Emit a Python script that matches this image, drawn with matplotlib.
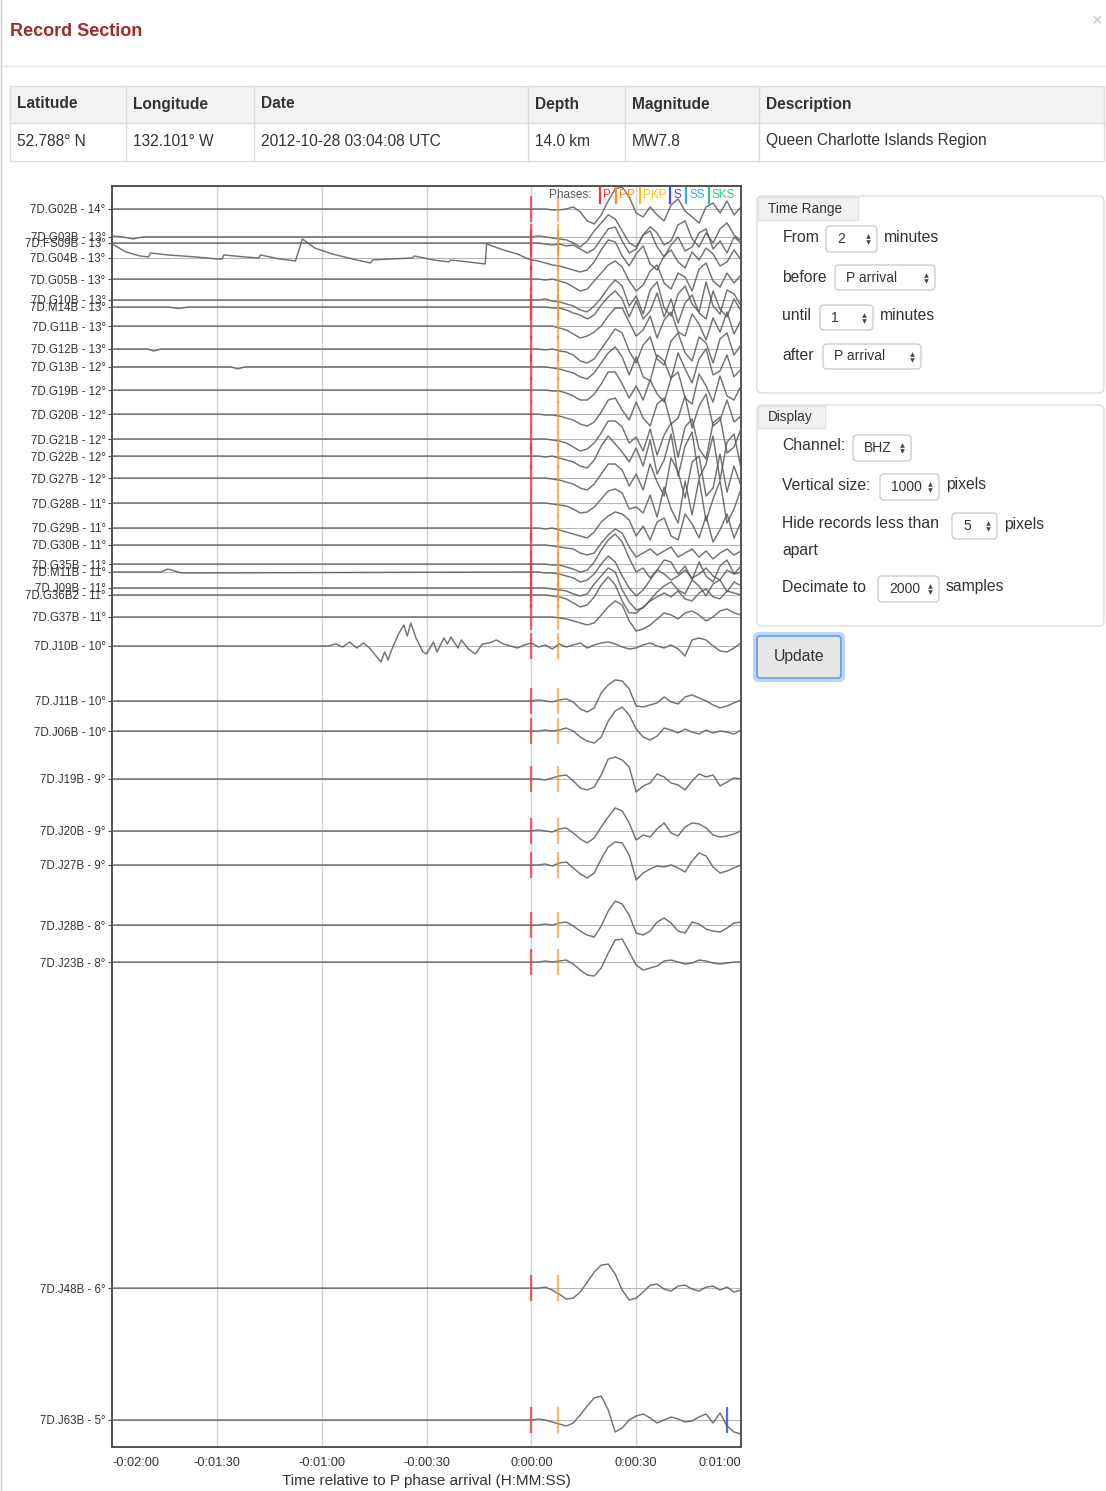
import numpy as np
import matplotlib
matplotlib.use('Agg')
import matplotlib.pyplot as plt
from matplotlib.patches import Rectangle, FancyBboxPatch

plt.rcParams['font.family'] = ['Liberation Sans', 'DejaVu Sans']

W, H = 1106, 1491

# ---------------- data ----------------
stations = ['7D.G02B', '7D.G03B', '7D.FS09B', '7D.G04B', '7D.G05B', '7D.G10B', '7D.M14B',
            '7D.G11B', '7D.G12B', '7D.G13B', '7D.G19B', '7D.G20B', '7D.G21B', '7D.G22B',
            '7D.G27B', '7D.G28B', '7D.G29B', '7D.G30B', '7D.G35B', '7D.M11B', '7D.J09B',
            '7D.G36B2', '7D.G37B', '7D.J10B', '7D.J11B', '7D.J06B', '7D.J19B', '7D.J20B',
            '7D.J27B', '7D.J28B', '7D.J23B', '7D.J48B', '7D.J63B']
deg_labels = [14, 13, 13, 13, 13, 13, 13, 13, 13, 12, 12, 12, 12, 12, 12, 11, 11, 11, 11, 11,
              11, 11, 11, 10, 10, 10, 9, 9, 9, 8, 8, 6, 5]
distances = [14.200, 13.993, 13.948, 13.837, 13.681, 13.526, 13.474, 13.333, 13.163, 13.030,
             12.859, 12.681, 12.496, 12.370, 12.207, 12.022, 11.837, 11.711, 11.570, 11.511,
             11.393, 11.341, 11.178, 10.963, 10.556, 10.333, 9.978, 9.593, 9.341, 8.896,
             8.622, 6.207, 5.230]

# post-P samples every 2 s from 0 to 60 s (amplitude, display counts)
post_t = np.arange(0, 61, 2)
w_G02B = [0,0,0,-1,-1,0,2,-3,-12,-15,-6,8,20,22,12,-4,-8,2,-6,-12,4,10,-2,-8,-14,2,6,-4,8,-6,2]
w_G03B = [0,1,0,-1,-2,-3,-6,-10,-4,6,14,22,18,6,-6,-10,2,10,4,-8,-4,12,16,-2,-10,4,-6,8,14,2,-4]
w_FS09B = [0,0,-1,-2,-1,-3,-2,-6,-10,-6,4,14,16,2,-10,-6,8,12,-4,-14,-2,6,-8,-4,10,14,-6,2,-10,6,0]
w_G04B = [-2,-3,-5,-7,-8,-10,-12,-14,-12,-4,8,18,16,2,-8,4,12,-6,-12,2,8,-4,-10,6,-2,10,4,-8,-4,8,-2]
w_G05B = [0,0,-1,0,-2,-4,-8,-12,-10,-2,6,14,18,12,-2,-12,-6,8,14,-4,-10,6,2,-12,10,16,-2,-8,6,-4,4]
w_G10B = [0,0,1,-1,-2,-4,-6,-10,-12,-6,2,12,20,14,-6,4,-14,10,18,-8,-16,6,14,-4,-12,18,-6,-14,10,6,-6]
w_M14B = [0,0,0,-1,-1,-3,-6,-8,-12,-8,2,10,16,8,-10,6,-12,-4,14,-10,8,-16,4,12,-6,-12,16,-2,-10,8,-4]
w_G11B = [0,0,0,0,-2,-4,-8,-12,-10,-6,0,10,18,18,4,-10,-4,10,-12,6,14,-6,-10,12,2,-14,8,-6,14,-8,6]
w_G12B = [0,0,-1,0,-2,-3,-6,-12,-14,-10,0,10,20,16,-2,-14,4,12,-10,-16,8,16,-4,-12,12,6,-14,10,16,-6,4]
w_G13B = [0,0,0,-1,-2,-4,-6,-10,-12,-6,4,14,20,10,-8,10,-10,-14,12,6,-12,14,-2,-16,8,18,-8,-4,12,-10,-2]
w_G19B = [0,0,0,-1,-1,-3,-6,-10,-10,-4,6,18,18,6,-8,4,-10,10,-4,-12,12,18,-8,-14,16,4,-12,14,-6,-10,4]
w_G20B = [0,0,-1,-1,-2,-4,-6,-10,-12,-8,2,14,16,4,-6,12,-4,-12,10,16,-10,-4,18,-14,8,20,-12,-6,14,-8,-2]
w_G21B = [0,0,0,-1,-2,-4,-8,-12,-10,-4,6,18,18,12,-4,2,-12,10,-16,4,16,-18,12,20,-10,-20,16,22,-14,-8,10]
w_G22B = [0,0,-1,0,-2,-4,-6,-10,-12,-4,10,20,12,4,-6,8,-10,16,-18,-4,22,-20,10,24,-22,-8,20,-24,14,22,-12]
w_G27B = [0,0,0,-1,-2,-4,-6,-10,-12,-6,4,14,14,8,-8,4,-12,14,-4,-18,20,6,-20,16,22,-18,-10,24,-14,12,-8]
w_G28B = [0,0,0,-1,-2,-3,-6,-10,-9,-4,4,12,14,10,-6,-4,-10,8,-14,16,-6,-20,22,-12,24,-18,4,22,-20,-6,14]
w_G29B = [0,0,-1,0,-2,-4,-6,-8,-10,-4,6,12,16,14,8,-8,2,-12,6,10,-8,-12,14,4,-10,12,-14,-2,14,-10,6]
w_G30B = [0,0,0,-1,-2,-3,-4,-8,-10,-8,2,10,16,12,-2,-12,-8,-4,-10,-6,-2,-12,-8,-4,-12,-6,-14,-8,-4,-10,-6]
w_G35B = [0,0,0,-1,-1,-3,-5,-8,-6,2,14,24,30,22,6,-8,-4,-14,-6,-10,-16,-12,-6,-14,-10,-4,-12,-16,-6,-10,-8]
w_M11B = [0,0,-1,-1,-2,-4,-6,-10,-8,-2,8,16,10,-4,-16,-24,-18,-8,2,12,10,-2,6,-8,10,-4,-10,6,12,-2,6]
w_J09B = [0,0,0,-1,-2,-3,-6,-8,-6,4,12,20,16,-2,-14,-22,-20,-12,-4,2,6,-2,-6,8,2,-8,4,8,-4,6,2]
w_G36B2 = [0,0,0,-1,-2,-4,-8,-12,-10,-2,10,18,10,-6,-18,-18,-12,-6,-2,2,-2,4,-4,-6,2,6,-2,-4,4,2,0]
w_G37B = [0,0,0,0,-1,-2,-4,-6,-8,-6,2,10,16,12,-4,-14,-12,-8,-2,4,2,-2,4,6,2,-4,0,6,8,4,2]
w_J10B = [3,-1,1,-3,2,-1,1,3,-2,1,3,4,2,-1,-3,-2,1,3,0,-2,1,-3,-10,6,8,6,0,-5,-6,-2,3]
w_J11B = [0,1,0,-1,1,2,-1,-8,-11,-7,8,16,21,20,12,-5,-6,-4,-2,4,-1,-3,4,6,3,0,-4,-7,-5,-2,1]
w_J06B = [0,0,1,0,1,3,0,-6,-10,-12,-6,10,20,24,16,2,-6,-9,-5,3,1,-2,2,-1,-3,1,-2,0,-1,-3,1]
w_J19B = [0,0,-1,1,3,4,-2,-9,-11,-8,4,20,22,19,12,-13,-7,-4,5,2,-4,-6,-11,-2,5,2,4,-7,-3,1,0]
w_J20B = [0,1,0,-1,2,3,-2,-8,-12,-7,4,14,23,20,8,-9,-4,-6,2,8,-2,-5,4,8,7,3,-4,-6,-5,-3,0]
w_J27B = [0,0,1,-1,2,3,-3,-9,-13,-8,6,18,23,22,10,-15,-8,-4,-1,-2,0,-3,-7,4,12,9,-2,-8,-6,-3,0]
w_J28B = [0,0,1,0,2,3,-1,-6,-10,-12,-1,14,24,21,10,-8,-10,-6,3,7,2,-6,-8,3,1,-4,-6,-7,-3,2,3]
w_J23B = [0,0,1,0,1,2,-2,-8,-13,-14,-6,9,22,23,10,-3,-8,-6,-4,1,2,0,-2,-1,2,1,-1,-2,-1,0,0]
w_J48B = [0,0,1,-2,-6,-11,-10,-4,6,16,23,24,14,-2,-12,-10,-4,3,4,-1,-3,2,3,-1,-3,1,2,-2,1,-4,-2]
w_J63B = [0,1,0,-2,-4,-6,-3,5,14,22,24,10,-12,-8,0,4,6,2,-3,0,3,1,-2,-1,3,6,-3,7,-6,-12,-14]

post_waves = [w_G02B, w_G03B, w_FS09B, w_G04B, w_G05B, w_G10B, w_M14B, w_G11B, w_G12B, w_G13B,
              w_G19B, w_G20B, w_G21B, w_G22B, w_G27B, w_G28B, w_G29B, w_G30B, w_G35B, w_M11B,
              w_J09B, w_G36B2, w_G37B, w_J10B, w_J11B, w_J06B, w_J19B, w_J20B, w_J27B, w_J28B,
              w_J23B, w_J48B, w_J63B]

# pre-P signal (time s, amplitude) where the record is not flat
pre_G04B_t = [-120,-116,-112,-109.5,-109,-104,-96,-90,-88.5,-88,-82,-78,-77.5,-72,-67.5,-65.5,-62,
              -57,-50,-46,-45.5,-40,-34,-33.5,-28,-23.6,-23,-18,-13.2,-12.8,-8,-4,-1.5]
pre_G04B_a = [14,6,2,1,5,3,1,-1,-1,3,1,0,3,-1,-3,19,10,4,-2,-5,-2,-1,0,2,-2,-4,-2,-4,-6,14,8,4,0]
pre_J10B_t = [-120,-58,-56,-54,-52,-50,-48,-46,-44,-43,-42,-41,-40,-38,-36.5,-35.5,-34.5,-33,-31,
              -30,-28,-27,-25,-24,-23,-21,-20,-18,-16,-14,-12,-10,-8,-6,-4,-2]
pre_J10B_a = [0,0,2,-1,4,-2,3,-3,-12,-16,-6,-14,-4,12,21,10,23,8,-6,-8,4,-6,8,2,9,-2,6,-3,-8,2,
              3,6,2,0,-2,1]
pre_G03B_t = [-120,-117,-114,-111,-100,-2]
pre_G03B_a = [1,0,-2,0,0,0]
pre_M11B_t = [-120,-106,-104,-102,-100,-2]
pre_M11B_a = [0,0,3,1,-1,0]
pre_M14B_t = [-120,-104,-101,-98,-2]
pre_M14B_a = [0,0,-1.5,0,0]
pre_G12B_t = [-120,-110,-108,-106,-2]
pre_G12B_a = [0,0,-2,0,0]
pre_G13B_t = [-120,-86,-84,-82,-2]
pre_G13B_a = [0,0,-2,0,0]
pre_signals = {'7D.G04B': (pre_G04B_t, pre_G04B_a), '7D.J10B': (pre_J10B_t, pre_J10B_a),
               '7D.G03B': (pre_G03B_t, pre_G03B_a), '7D.M11B': (pre_M11B_t, pre_M11B_a),
               '7D.M14B': (pre_M14B_t, pre_M14B_a), '7D.G12B': (pre_G12B_t, pre_G12B_a),
               '7D.G13B': (pre_G13B_t, pre_G13B_a)}

pp_delay = 7.5           # s after P
s_marks = {'7D.J63B': 56.1}

phase_names = ['P', 'PP', 'PKP', 'S', 'SS', 'SKS']
phase_colors = ['#f03a3a', '#ff8c1a', '#ffc21a', '#3d4fe0', '#3aa7f0', '#2ecc71']

grid_times = [-90, -60, -30, 0, 30]
tick_times = [-120, -90, -60, -30, 0, 30, 60]

table_headers = ['Latitude', 'Longitude', 'Date', 'Depth', 'Magnitude', 'Description']
table_values = ['52.788° N', '132.101° W', '2012-10-28 03:04:08 UTC', '14.0 km', 'MW7.8',
                'Queen Charlotte Islands Region']

amp_scale = 1.0 / 135.0   # degrees per display count


def fmt_time(s):
    sign = '-' if s < 0 else ''
    s = int(abs(s))
    return f"{sign}{s // 3600}:{(s // 60) % 60:02d}:{s % 60:02d}"


# ---------------- figure / page chrome ----------------
fig = plt.figure(figsize=(W / 100, H / 100), dpi=100)
ui = fig.add_axes([0, 0, 1, 1], zorder=0)
ui.set_xlim(0, W)
ui.set_ylim(H, 0)
ui.axis('off')

TXT = '#333333'
ui.plot([0.8, 0.8], [0, H], color='#cfcfcf', lw=1)
ui.text(10, 31, 'Record Section', color='#9e2a2b', fontsize=13, fontweight='bold',
        family=['Liberation Sans Narrow', 'Liberation Sans'], va='center', ha='left')
ui.text(1097, 22, '×', color='#c4c4c4', fontsize=13, ha='center', va='center')
ui.plot([0, W], [66, 66], color='#e5e5e5', lw=1)

# event table
col_x = [10, 126, 254, 528, 625, 759, 1104]
ui.add_patch(Rectangle((10, 86), 1094, 37, fc='#f3f3f3', ec='none'))
ui.add_patch(Rectangle((10, 86), 1094, 75, fc='none', ec='#dcdcdc', lw=1))
ui.plot([10, 1104], [123, 123], color='#dcdcdc', lw=1)
for x in col_x[1:-1]:
    ui.plot([x, x], [86, 161], color='#dcdcdc', lw=1)
for i, (hd, val) in enumerate(zip(table_headers, table_values)):
    ui.text(col_x[i] + 7, 104, hd, fontsize=11.2, fontweight='bold', color=TXT, va='center')
    ui.text(col_x[i] + 7, 141, val, fontsize=11.2, color=TXT, va='center')


def rbox(x0, y0, x1, y1, r=4, fc='white', ec='#cccccc', lw=1.0, z=1):
    p = FancyBboxPatch((x0, y0), x1 - x0, y1 - y0,
                       boxstyle=f'round,pad=0,rounding_size={r}',
                       fc=fc, ec=ec, lw=lw, zorder=z)
    ui.add_patch(p)


def select(x0, y0, x1, y1, val):
    rbox(x0, y0, x1, y1, r=4, fc='white', ec='#cccccc', lw=1, z=2)
    yc = (y0 + y1) / 2
    ui.text(x0 + 11, yc, val, fontsize=10, color=TXT, va='center', zorder=3)
    ui.plot([x1 - 9], [yc - 3], marker='^', ms=3.3, color='#444444', mec='none', zorder=3)
    ui.plot([x1 - 9], [yc + 3], marker='v', ms=3.3, color='#444444', mec='none', zorder=3)


def label(x, y, s):
    ui.text(x, y, s, fontsize=11.3, color=TXT, va='center', zorder=3)


# Time Range fieldset
rbox(757, 196, 1104, 393, r=5, fc='white', ec='#dddddd', lw=1)
ui.add_patch(Rectangle((758, 197), 100, 23, fc='#f1f1f1', ec='#e2e2e2', lw=1, zorder=2))
ui.text(768, 208.5, 'Time Range', fontsize=9.8, color=TXT, va='center', zorder=3)
label(783, 238, 'From'); select(826, 226, 877, 252, '2'); label(884, 238, 'minutes')
label(782, 277, 'before'); select(835, 265, 935, 290, 'P arrival')
label(782, 316, 'until'); select(820, 305, 873, 330, '1'); label(880, 316, 'minutes')
label(782, 355, 'after'); select(823, 344, 921, 369, 'P arrival')

# Display fieldset
rbox(757, 405, 1104, 626, r=5, fc='white', ec='#dddddd', lw=1)
ui.add_patch(Rectangle((758, 406), 67, 22, fc='#f1f1f1', ec='#e2e2e2', lw=1, zorder=2))
ui.text(768, 416.5, 'Display', fontsize=9.8, color=TXT, va='center', zorder=3)
label(782, 446, 'Channel:'); select(853, 435, 911, 461, 'BHZ')
label(782, 485, 'Vertical size:'); select(880, 474, 939, 500, '1000'); label(946, 485, 'pixels')
label(782, 524, 'Hide records less than'); select(952, 513, 997, 539, '5'); label(1004, 524, 'pixels')
label(782, 551, 'apart')
label(782, 587, 'Decimate to'); select(878, 576, 939, 602, '2000'); label(946, 587, 'samples')

# Update button
rbox(755, 634, 843, 680, r=4, fc='none', ec='#b9d6f7', lw=3, z=1)
rbox(757, 636, 841, 678, r=3, fc='#e6e6e6', ec='#6ea3e2', lw=1.3, z=2)
ui.text(799, 656, 'Update', fontsize=11.3, color=TXT, ha='center', va='center', zorder=3)

# ---------------- record section ----------------
ax = fig.add_axes([112 / W, 1 - 1447 / H, 629 / W, 1261 / H], zorder=2)
ax.set_xlim(-120, 60)
ax.set_ylim(5.03, 14.37)

for g in grid_times:
    ax.axvline(g, color='#d2d2d2', lw=1.0, zorder=1)
for d in distances:
    ax.axhline(d, color='#b8b8b8', lw=0.8, zorder=2)

half = 13 * amp_scale
for name, d, wv in zip(stations, distances, post_waves):
    if name in pre_signals:
        tp, apre = pre_signals[name]
    else:
        tp, apre = [-120, -2], [0, 0]
    t = np.concatenate([np.asarray(tp, float), post_t])
    a = np.concatenate([np.asarray(apre, float), np.asarray(wv, float)])
    ax.plot(t, d + a * amp_scale, color='#5a5a5a', lw=1.05, alpha=0.85, zorder=3,
            solid_joinstyle='round')
    ax.vlines(0, d - half, d + half, color=phase_colors[0], lw=1.6, alpha=0.8, zorder=5)
    ax.vlines(pp_delay, d - half, d + half, color=phase_colors[1], lw=1.5, alpha=0.65, zorder=5)
    if name in s_marks:
        ax.vlines(s_marks[name], d - half, d + half, color=phase_colors[3], lw=1.6, alpha=0.85, zorder=5)

ax.set_xticks(tick_times)
ax.set_xticklabels([fmt_time(s) for s in tick_times])
xl = ax.get_xticklabels()
xl[0].set_ha('left')
xl[-1].set_ha('right')
ax.tick_params(axis='x', length=0, pad=7, labelsize=9.2, labelcolor=TXT)
ax.set_yticks(distances)
ax.set_yticklabels([f'{s} - {g}°' for s, g in zip(stations, deg_labels)])
ax.tick_params(axis='y', length=3, width=0.8, pad=1.5, labelsize=8.3, labelcolor=TXT, color='#555555')
ax.set_xlabel('Time relative to P phase arrival (H:MM:SS)', fontsize=11, color=TXT, labelpad=4)
for sp in ax.spines.values():
    sp.set_color('#444444')
    sp.set_linewidth(1.3)

# phase legend (inside plot, top right)
ax.text(549, 195.5, 'Phases:', transform=ui.transData, fontsize=8.5, color='#555555',
        va='center', ha='left', zorder=8)
bar_x = [600, 616, 640, 670, 686, 709]
for bx, nm, col in zip(bar_x, phase_names, phase_colors):
    ax.plot([bx, bx], [188, 203], transform=ui.transData, color=col, lw=1.6, zorder=8,
            clip_on=False)
    ax.text(bx + 3, 195.5, nm, transform=ui.transData, fontsize=8.5, color=col,
            va='center', ha='left', zorder=8)

fig.savefig('out.png', dpi=100)
